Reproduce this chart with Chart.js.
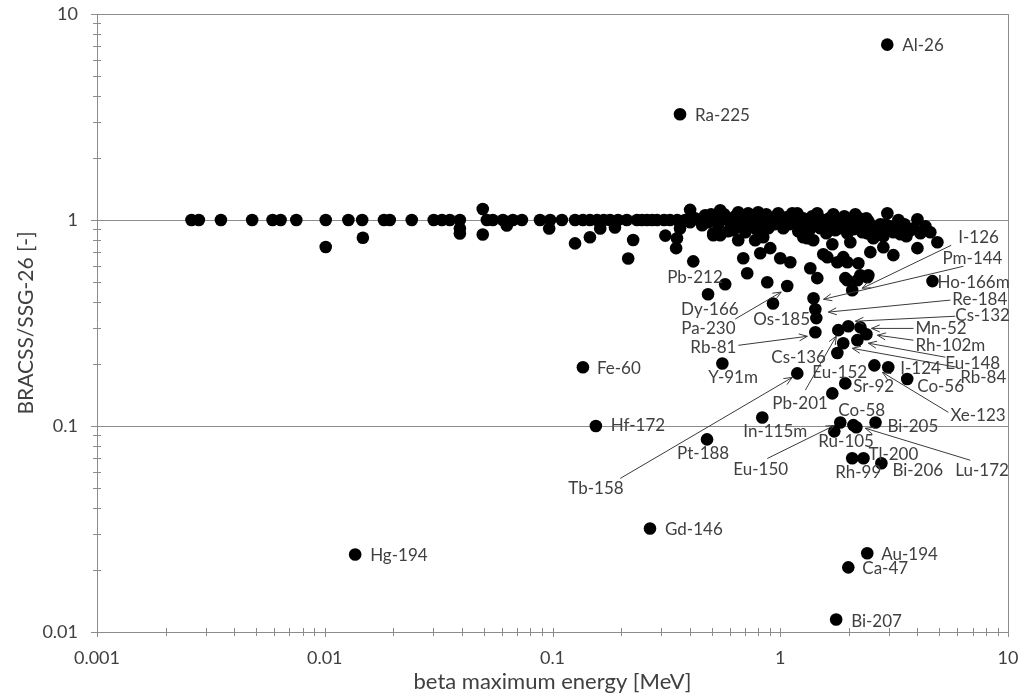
<!DOCTYPE html>
<html>
<head>
<meta charset="utf-8">
<title>BRACSS / SSG-26</title>
<script src="https://cdn.jsdelivr.net/npm/chart.js@4.4.0/dist/chart.umd.min.js"></script>
<style>
  html, body { margin: 0; padding: 0; background: #fff; }
  canvas { display: block; }
</style>
</head>
<body>
<canvas id="ratioChart" width="1022" height="695"></canvas>
<script>
// Unlabelled nuclides: beta maximum energy [MeV] and BRACSS/SSG-26 ratio (parallel arrays)
const energy = [
    // ratio = 1 row, low energies
    0.0026, 0.0028, 0.0035, 0.0048, 0.0059, 0.0064, 0.0075, 0.0101, 0.0127, 0.0146,
    0.0182, 0.0193, 0.0241, 0.0301, 0.0327, 0.0354, 0.0392, 0.0515, 0.0547,
    0.0101, 0.0147, 0.0392, 0.0392, 0.0494, 0.0494,
    // ratio = 1 row, 0.06 - 0.4 MeV
    0.0606, 0.067, 0.0734, 0.0881, 0.0977, 0.110, 0.1256, 0.136, 0.146, 0.157,
    0.168, 0.179, 0.194, 0.212, 0.235, 0.247, 0.260, 0.274, 0.288, 0.309,
    0.328, 0.353, 0.382,
    0.063, 0.0967, 0.1256, 0.146, 0.162, 0.188, 0.226, 0.215, 0.313, 0.352,
    0.349, 0.363, 0.402, 0.415,
    // dense band 0.4 - 5 MeV
    0.445, 0.468, 0.483, 0.508, 0.523, 0.545, 0.545, 0.567, 0.590, 0.603,
    0.622, 0.634, 0.654, 0.667, 0.695, 0.702, 0.723, 0.753, 0.776, 0.800,
    0.817, 0.842, 0.868, 0.886, 0.913, 0.941, 0.970, 1.0, 1.031, 1.063,
    1.095, 1.129, 1.164, 1.188, 1.224, 1.262, 1.301, 1.341, 1.382, 1.425,
    1.454, 1.499, 1.545, 1.593, 1.642, 1.693, 1.745, 1.799, 1.854, 1.911,
    1.970, 2.031, 2.094, 2.158, 2.225, 2.293, 2.364, 2.437, 2.512, 2.589,
    2.669, 2.752, 2.836, 2.953, 3.044, 3.138, 3.302, 3.438, 3.580, 3.728,
    4.002, 4.125, 4.339, 4.898,
    0.402, 0.423, 0.454, 0.497, 0.534, 0.578, 0.641, 0.681, 0.738, 0.784,
    0.834, 0.904, 0.980, 1.052, 1.141, 1.200, 1.288, 1.355, 1.469, 1.577,
    1.710, 1.763, 1.892, 1.990, 2.136, 2.248, 2.388, 2.537, 2.725, 2.894,
    3.205, 3.51, 3.85, 4.56,
    // below the band
    0.776, 0.842, 0.904, 0.817, 0.688, 1.0, 1.107, 0.716, 0.877, 1.355,
    1.454, 1.262, 1.396, 1.545, 1.61, 1.892, 1.970, 1.931, 2.181, 2.412,
    2.487, 2.836, 3.138, 4.002, 3.37, 2.031, 2.41, 2.953, 0.508, 0.545,
    0.654, 1.314, 1.781, 2.203, 2.248, 2.437, 1.970, 1.693, 2.563, 0.929
];
const ratio = [
    1, 1, 1, 1, 1, 1, 1, 1, 1, 1,
    1, 1, 1, 1, 1, 1, 1, 1, 1,
    0.74, 0.82, 0.91, 0.86, 1.13, 0.85,
    1, 1, 1, 1, 1, 1, 1, 1, 1, 1,
    1, 1, 1, 1, 1, 1, 1, 1, 1, 1,
    1, 1, 1,
    0.94, 0.91, 0.77, 0.825, 0.91, 0.92, 0.80, 0.65, 0.84, 0.815,
    0.73, 0.91, 1.12, 0.63,
    1.0, 1.055, 0.976, 0.863, 1.02, 1.116, 1.0, 1.067, 0.882, 0.976,
    0.892, 1.043, 1.091, 0.954, 1.009, 0.872, 1.079, 0.976, 1.02, 1.091,
    0.933, 1.0, 1.067, 0.912, 1.009, 0.954, 1.055, 0.987, 0.912, 1.032,
    0.954, 1.079, 1.0, 1.079, 0.933, 1.02, 0.954, 0.892, 1.043, 0.976,
    1.079, 0.912, 1.0, 0.863, 1.02, 0.943, 0.892, 0.987, 0.912, 1.043,
    0.863, 0.976, 0.902, 0.954, 1.02, 0.872, 0.933, 0.987, 0.844, 0.912,
    0.882, 0.954, 0.834, 1.079, 0.933, 0.872, 1.0, 0.912, 0.834, 0.892,
    1.009, 0.863, 0.933, 0.78,
    0.976, 1.02, 0.943, 1.067, 0.954, 1.009, 0.923, 1.055, 0.954, 0.902,
    1.043, 0.965, 1.079, 0.954, 1.009, 0.882, 0.987, 0.933, 1.009, 0.943,
    1.067, 0.933, 0.976, 0.923, 1.067, 0.923, 1.02, 0.933, 0.902, 0.954,
    0.912, 0.954, 0.912, 0.872,
    0.798, 0.825, 0.730, 0.690, 0.652, 0.652, 0.624, 0.551, 0.499, 0.583,
    0.522, 0.825, 0.798, 0.682, 0.66, 0.66, 0.624, 0.522, 0.51, 0.527,
    0.698, 0.738, 0.675, 0.730, 0.853, 0.78, 0.863, 0.923, 0.844, 0.844,
    0.798, 0.816, 0.624, 0.617, 0.539, 0.539, 0.510, 0.763, 0.816, 0.393
];

// Labelled nuclides
const nuclideNames = [
    'Al-26', 'Ra-225', 'Pb-212', 'Dy-166', 'Pa-230', 'Rb-81', 'Os-185', 'Cs-136', 'Eu-152', 'Pb-201',
    'Tb-158', 'Y-91m', 'Fe-60', 'Hf-172', 'Hg-194', 'Gd-146', 'Pt-188', 'In-115m', 'Eu-150', 'Ru-105',
    'Co-58', 'Bi-205', 'Lu-172', 'Tl-200', 'Rh-99', 'Bi-206', 'Xe-123', 'I-124', 'Co-56', 'Sr-92',
    'Mn-52', 'Rh-102m', 'Eu-148', 'Rb-84', 'Cs-132', 'Re-184', 'Ho-166m', 'Pm-144', 'I-126', 'Au-194',
    'Ca-47', 'Bi-207'
];
const nuclideEnergy = [
    2.95, 0.363, 0.573, 0.482, 1.073, 1.426, 1.426, 1.781, 1.799, 1.693,
    1.188, 0.557, 0.136, 0.155, 0.0136, 0.268, 0.477, 0.834, 1.835, 1.727,
    2.094, 2.62, 2.158, 2.32, 2.07, 2.78, 2.59, 2.98, 3.61, 1.93,
    2.25, 2.39, 2.18, 1.89, 1.99, 1.44, 4.66, 1.40, 2.07, 2.41,
    1.99, 1.76
];
const nuclideRatio = [
    7.1, 3.26, 0.488, 0.436, 0.478, 0.285, 0.369, 0.226, 0.292, 0.144,
    0.180, 0.201, 0.193, 0.1, 0.0238, 0.0318, 0.0861, 0.110, 0.104, 0.0942,
    0.101, 0.104, 0.0986, 0.0697, 0.0697, 0.0659, 0.197, 0.193, 0.169, 0.161,
    0.301, 0.279, 0.261, 0.252, 0.305, 0.334, 0.505, 0.417, 0.456, 0.0241,
    0.0206, 0.0115
];

const xTicks = [0.001, 0.01, 0.1, 1, 10];
const xTickLabels = ['0.001', '0.01', '0.1', '1', '10'];
const yTicks = [0.01, 0.1, 1, 10];
const yTickLabels = ['0.01', '0.1', '1', '10'];

// Where each name sits relative to its dot (px): text = [dx, dy] of the left/middle anchor,
// lead = [fromDx, fromDy, toDx, toDy] for the arrow drawn back to the dot
const calloutLayout = {
    'Al-26':   { text: [15, 1] },
    'Ra-225':  { text: [15, 1] },
    'Pb-212':  { text: [-58, -7] },
    'Dy-166':  { text: [-27, 15] },
    'Pa-230':  { text: [-106, 42], lead: [-52, 33, -6, 6] },
    'Rb-81':   { text: [-125, 15], lead: [-77, 13, -8, 4] },
    'Os-185':  { text: [-62, 10] },
    'Cs-136':  { text: [-66, 4] },
    'Eu-152':  { text: [-26, 42], lead: [-33, 60, -2, 6] },
    'Pb-201':  { text: [-60, 10] },
    'Tb-158':  { text: [-229, 115], lead: [-177, 105, -5, 4] },
    'Y-91m':   { text: [-14, 14] },
    'Fe-60':   { text: [14, 1] },
    'Hf-172':  { text: [15, 0] },
    'Hg-194':  { text: [15, 1] },
    'Gd-146':  { text: [15, 1] },
    'Pt-188':  { text: [-30, 14] },
    'In-115m': { text: [-19, 14] },
    'Eu-150':  { text: [-107, 47], lead: [-73, 36, -6, 3] },
    'Ru-105':  { text: [-16, 10] },
    'Co-58':   { text: [-15, -15] },
    'Bi-205':  { text: [12, 4] },
    'Lu-172':  { text: [99, 43], lead: [114, 33, 9, 1] },
    'Tl-200':  { text: [5, -4] },
    'Rh-99':   { text: [-17, 14] },
    'Bi-206':  { text: [11, 7] },
    'Xe-123':  { text: [76, 50], lead: [74, 47, 8, 7] },
    'I-124':   { text: [12, 1] },
    'Co-56':   { text: [10, 7] },
    'Sr-92':   { text: [8, 3] },
    'Mn-52':   { text: [55, 1], lead: [53, 1, 11, 1] },
    'Rh-102m': { text: [49, 11], lead: [47, 6, 11, 1] },
    'Eu-148':  { text: [88, 23], lead: [88, 17, 11, 3] },
    'Rb-84':   { text: [117, 34], lead: [114, 24, 9, 5] },
    'Cs-132':  { text: [107, -11], lead: [107, -10, 7, -5] },
    'Re-184':  { text: [136, -19], lead: [134, -18, 12, -6] },
    'Ho-166m': { text: [5, 1] },
    'Pm-144':  { text: [129, -40], lead: [150, -32, 10, 1] },
    'I-126':   { text: [106, -53], lead: [99, -45, 10, -2] },
    'Au-194':  { text: [14, 1] },
    'Ca-47':   { text: [14, 1] },
    'Bi-207':  { text: [15, 2] }
};

const FONT = 'Lato, "Open Sans", sans-serif';
const AXIS_GREY = '#8c8c8c';
const TEXT_COLOR = '#404040';

// Plot frame: right edge, major ticks outside, minor ticks across the axis lines
const frameTicks = {
    id: 'frameTicks',
    beforeDatasetsDraw(chart) {
        const { ctx, chartArea: area, scales: { x, y } } = chart;
        const snap = v => Math.round(v) + 0.5;
        ctx.save();
        ctx.strokeStyle = AXIS_GREY;
        ctx.lineWidth = 1;
        ctx.beginPath();
        ctx.moveTo(snap(area.right), area.top);
        ctx.lineTo(snap(area.right), area.bottom);

        xTicks.forEach(v => {
            const p = snap(x.getPixelForValue(v));
            ctx.moveTo(p, area.bottom - 4);
            ctx.lineTo(p, area.bottom + 5);
        });
        yTicks.forEach(v => {
            const p = snap(y.getPixelForValue(v));
            ctx.moveTo(area.left - 6, p);
            ctx.lineTo(area.left, p);
        });
        for (let d = 0; d < xTicks.length - 1; d++) {
            for (let k = 2; k < 10; k++) {
                const p = snap(x.getPixelForValue(xTicks[d] * k));
                ctx.moveTo(p, area.bottom - 4);
                ctx.lineTo(p, area.bottom + 4);
            }
        }
        for (let d = 0; d < yTicks.length - 1; d++) {
            for (let k = 2; k < 10; k++) {
                const p = snap(y.getPixelForValue(yTicks[d] * k));
                ctx.moveTo(area.left - 4, p);
                ctx.lineTo(area.left + 4, p);
            }
        }
        ctx.stroke();
        ctx.restore();
    }
};

// Nuclide names with their leader arrows
const callouts = {
    id: 'callouts',
    afterDatasetsDraw(chart) {
        const { ctx, scales: { x, y } } = chart;
        ctx.save();
        ctx.font = '17px ' + FONT;
        ctx.fillStyle = TEXT_COLOR;
        ctx.strokeStyle = '#3a3a3a';
        ctx.lineWidth = 1;
        ctx.textAlign = 'left';
        ctx.textBaseline = 'middle';

        nuclideNames.forEach((name, i) => {
            const layout = calloutLayout[name];
            if (!layout) return;
            const px = x.getPixelForValue(nuclideEnergy[i]);
            const py = y.getPixelForValue(nuclideRatio[i]);
            ctx.fillText(name, px + layout.text[0], py + layout.text[1]);

            if (layout.lead) {
                const [fx, fy, tx, ty] = layout.lead;
                const x0 = px + fx, y0 = py + fy, x1 = px + tx, y1 = py + ty;
                const ang = Math.atan2(y1 - y0, x1 - x0);
                const head = 9, spread = 0.4;
                ctx.beginPath();
                ctx.moveTo(x0, y0);
                ctx.lineTo(x1, y1);
                ctx.moveTo(x1 - head * Math.cos(ang - spread), y1 - head * Math.sin(ang - spread));
                ctx.lineTo(x1, y1);
                ctx.lineTo(x1 - head * Math.cos(ang + spread), y1 - head * Math.sin(ang + spread));
                ctx.stroke();
            }
        });
        ctx.restore();
    }
};

const dots = energy.map((e, i) => ({ x: e, y: ratio[i] }));
const namedDots = nuclideEnergy.map((e, i) => ({ x: e, y: nuclideRatio[i] }));

new Chart(document.getElementById('ratioChart').getContext('2d'), {
    type: 'scatter',
    data: {
        datasets: [{
            label: 'nuclides',
            data: dots,
            backgroundColor: '#000',
            borderWidth: 0,
            pointRadius: 6.3,
            pointHoverRadius: 6.3
        }, {
            label: 'labelled nuclides',
            data: namedDots,
            backgroundColor: '#000',
            borderWidth: 0,
            pointRadius: 6.3,
            pointHoverRadius: 6.3
        }]
    },
    options: {
        responsive: false,
        animation: false,
        devicePixelRatio: 1,
        layout: { padding: { top: 14, right: 14, left: 0, bottom: 0 } },
        plugins: { legend: { display: false }, tooltip: { enabled: false } },
        scales: {
            x: {
                type: 'logarithmic',
                min: 0.001,
                max: 10,
                afterBuildTicks: s => { s.ticks = xTicks.map(v => ({ value: v })); },
                afterFit: s => { s.height = 63; s.paddingLeft = 0; s.paddingRight = 0; },
                grid: { display: false, drawTicks: false },
                border: { display: true, color: AXIS_GREY },
                ticks: {
                    autoSkip: false,
                    maxRotation: 0,
                    padding: 15,
                    color: TEXT_COLOR,
                    font: { family: FONT, size: 18 },
                    callback: (v, i) => xTickLabels[i]
                },
                title: {
                    display: true,
                    text: 'beta maximum energy [MeV]',
                    color: TEXT_COLOR,
                    font: { family: FONT, size: 22 },
                    padding: { top: 0, bottom: 0 }
                }
            },
            y: {
                type: 'logarithmic',
                min: 0.01,
                max: 10,
                afterBuildTicks: s => { s.ticks = yTicks.map(v => ({ value: v })); },
                afterFit: s => { s.width = 97; s.paddingTop = 0; s.paddingBottom = 0; },
                grid: { color: AXIS_GREY, drawTicks: false },
                border: { display: true, color: AXIS_GREY },
                ticks: {
                    autoSkip: false,
                    padding: 19,
                    color: TEXT_COLOR,
                    font: { family: FONT, size: 18 },
                    callback: (v, i) => yTickLabels[i]
                },
                title: {
                    display: true,
                    text: 'BRACSS/SSG-26 [-]',
                    color: TEXT_COLOR,
                    font: { family: FONT, size: 21 },
                    padding: { top: 14, bottom: 0 }
                }
            }
        }
    },
    plugins: [frameTicks, callouts]
});
</script>
</body>
</html>
